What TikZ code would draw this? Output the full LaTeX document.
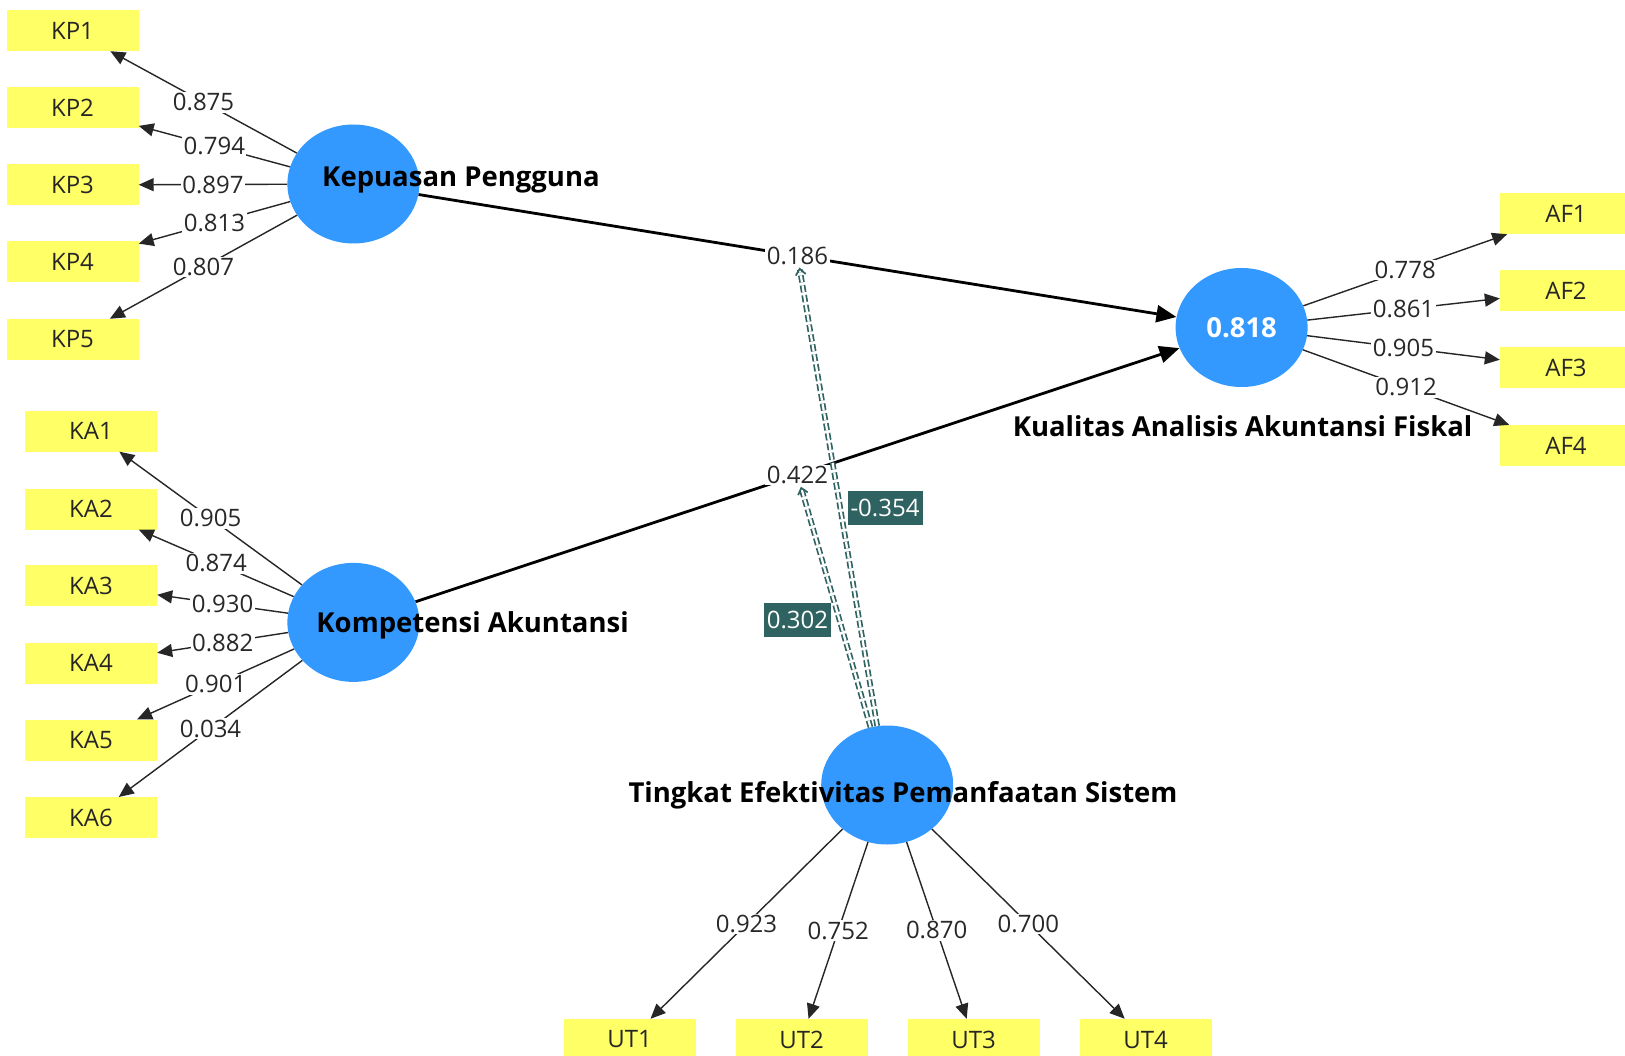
\documentclass[tikz,border=0pt]{standalone}
\usepackage{fontspec}
\setmainfont{Open Sans}
\usetikzlibrary{arrows.meta,shapes.geometric}
\definecolor{lvblue}{RGB}{51,153,255}
\definecolor{indyel}{RGB}{255,255,102}
\definecolor{modteal}{RGB}{47,99,97}
\definecolor{numgray}{RGB}{40,40,40}
\begin{document}
\begin{tikzpicture}[x=1pt,y=-1pt,
  lv/.style={ellipse, fill=lvblue, minimum width=132pt, minimum height=119pt, inner sep=0pt},
  ind/.style={rectangle, fill=indyel, minimum width=132pt, minimum height=41pt, inner sep=0pt, font=\fontsize{24}{24}\selectfont, text=black!85},
  lvtitle/.style={font=\fontsize{27.5}{27.5}\selectfont\bfseries, text=black, inner sep=0pt},
  load/.style={draw=black!85, line width=1.4pt, -{Triangle[length=15pt,width=13pt]}},
  ldlab/.style={fill=white, inner sep=1.5pt, font=\fontsize{24}{24}\selectfont, text=numgray},
  strpath/.style={draw=black, line width=2.8pt, -{Triangle[length=20pt,width=17pt]}},
  moder/.style={draw=modteal, line width=1.7pt, double=white, double distance=2.2pt, dash pattern=on 7pt off 3pt, -{Straight Barb[length=6pt,width=10pt]}},
  modlab/.style={fill=modteal, text=white, inner sep=3pt, minimum height=34pt, font=\fontsize{24}{24}\selectfont}
]
\clip (0,0) rectangle (1625,1056);
\fill[white] (0,0) rectangle (1625,1056);

% latent variables
\node[lv] (kp) at (353.4,184) {};
\node[lv] (ka) at (353.4,622.4) {};
\node[lv] (af) at (1241.6,327.5) {};
\node[lv] (ut) at (887.2,785) {};

% indicators
\node[ind] (kp1) at (72.5,30.5) {KP1};
\node[ind] (kp2) at (72.5,108) {KP2};
\node[ind] (kp3) at (72.5,185) {KP3};
\node[ind] (kp4) at (72.5,262) {KP4};
\node[ind] (kp5) at (72.5,339.5) {KP5};

\node[ind] (ka1) at (91,431) {KA1};
\node[ind] (ka2) at (91,509) {KA2};
\node[ind] (ka3) at (91,585.5) {KA3};
\node[ind] (ka4) at (91,663) {KA4};
\node[ind] (ka5) at (91,740) {KA5};
\node[ind] (ka6) at (91,817.7) {KA6};

\node[ind] (af1) at (1566,213.5) {AF1};
\node[ind] (af2) at (1566,291) {AF2};
\node[ind] (af3) at (1566,368) {AF3};
\node[ind] (af4) at (1566,445.6) {AF4};

\node[ind] (ut1) at (629.6,1039.5) {UT1};
\node[ind] (ut2) at (801.6,1039.5) {UT2};
\node[ind] (ut3) at (973.7,1039.5) {UT3};
\node[ind] (ut4) at (1145.7,1039.5) {UT4};

% outer loadings
\draw[load] (kp) -- node[ldlab]{0.875} (kp1);
\draw[load] (kp) -- node[ldlab]{0.794} (kp2);
\draw[load] (kp) -- node[ldlab]{0.897} (kp3);
\draw[load] (kp) -- node[ldlab]{0.813} (kp4);
\draw[load] (kp) -- node[ldlab]{0.807} (kp5);

\draw[load] (ka) -- node[ldlab]{0.905} (ka1);
\draw[load] (ka) -- node[ldlab]{0.874} (ka2);
\draw[load] (ka) -- node[ldlab]{0.930} (ka3);
\draw[load] (ka) -- node[ldlab]{0.882} (ka4);
\draw[load] (ka) -- node[ldlab]{0.901} (ka5);
\draw[load] (ka) -- node[ldlab]{0.034} (ka6);

\draw[load] (af) -- node[ldlab]{0.778} (af1);
\draw[load] (af) -- node[ldlab]{0.861} (af2);
\draw[load] (af) -- node[ldlab]{0.905} (af3);
\draw[load] (af) -- node[ldlab]{0.912} (af4);

\draw[load] (ut) -- node[ldlab]{0.923} (ut1);
\draw[load] (ut) -- node[ldlab]{0.752} (ut2);
\draw[load] (ut) -- node[ldlab]{0.870} (ut3);
\draw[load] (ut) -- node[ldlab]{0.700} (ut4);

% structural paths
\draw[strpath] (kp) -- node[ldlab] (l186) {0.186} (af);
\draw[strpath] (ka) -- node[ldlab] (l422) {0.422} (af);

% moderating effects
\draw[moder] (ut) -- (l186);
\draw[moder] (ut) -- (l422);
\node[modlab] (m354) at (885,507.5) {-0.354};
\node[modlab] (m302) at (797.5,619.5) {0.302};

% titles
\node[lvtitle] (tkp) at (461,180) {Kepuasan Pengguna};
\node[lvtitle] (tka) at (472.6,625.5) {Kompetensi Akuntansi};
\node[lvtitle] (taf) at (1242.6,426) {Kualitas Analisis Akuntansi Fiskal};
\node[lvtitle] (tut) at (903,795) {Tingkat Efektivitas Pemanfaatan Sistem};
\node[lvtitle, text=white] (r2) at (af) {0.818};
\end{tikzpicture}
\end{document}
